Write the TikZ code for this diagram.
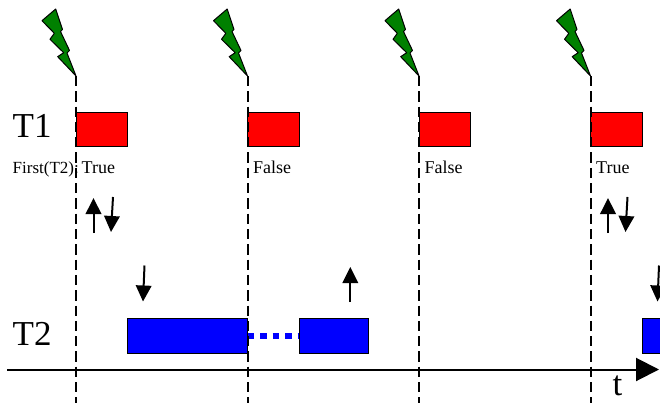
\documentclass[tikz,border=0pt]{standalone}
\usepackage{fontspec}
\setmainfont{Liberation Serif}
\usetikzlibrary{arrows.meta}
\tikzset{
  timeline/.style={draw=black,line width=2pt,dash pattern=on 10.3pt off 5pt},
  redbox/.style={draw=black,line width=1pt,fill=red,minimum width=51.5pt,minimum height=34.5pt,inner sep=0pt,outer sep=0pt,anchor=north west},
  bluebox/.style={draw=black,line width=1pt,fill=blue,minimum height=34.5pt,inner sep=0pt,outer sep=0pt,anchor=north west},
  bolt/.style={draw=black,line width=1pt,line join=round,fill=green!50!black},
  sig/.style={draw=black,line width=2pt,-{Triangle[length=16pt,width=15.5pt]}},
  biglabel/.style={font=\fontsize{35pt}{35pt}\selectfont,anchor=base west,inner sep=0pt},
  smalllabel/.style={font=\fontsize{18pt}{18pt}\selectfont,anchor=base west,inner sep=0pt},
  waitline/.style={draw=blue,line width=6pt,dash pattern=on 6.7pt off 5.8pt}
}
\newcommand{\boltshape}[1]{
  \draw[bolt,shift={(#1,0)}] (55.7,9) -- (42,20.7) -- (54.3,33.3) -- (50,39.3) -- (63.7,52.7) -- (57.7,56.7) -- (76,76) -- (67,53) -- (69.5,50.5) -- (60.5,31.5) -- (62.5,29.5) -- cycle;
}
\begin{document}
\begin{tikzpicture}[x=1pt,y=-1pt]
\useasboundingbox (0,0) rectangle (660,403);
\clip (0,0) rectangle (660,403);
\coordinate (l1a) at (76,76); \coordinate (l1b) at (76,403);
\coordinate (l2a) at (247.5,76); \coordinate (l2b) at (247.5,403);
\coordinate (l3a) at (419,76); \coordinate (l3b) at (419,403);
\coordinate (l4a) at (590.5,76); \coordinate (l4b) at (590.5,403);
\boltshape{0}\boltshape{171.5}\boltshape{343}\boltshape{514.5}
\node[redbox] (r1) at (76,112.5) {};
\node[redbox] (r2) at (247.5,112.5) {};
\node[redbox] (r3) at (419,112.5) {};
\node[redbox] (r4) at (590.5,112.5) {};
\node[bluebox,minimum width=120pt] (b1) at (127.5,318.5) {};
\node[bluebox,minimum width=69pt] (b2) at (299,318.5) {};
\node[bluebox,minimum width=40pt] (b3) at (642,318.5) {};
\draw[waitline] (b1.east) -- (b2.west);
\draw[timeline] (l1a) -- (l1b);
\draw[timeline] (l2a) -- (l2b);
\draw[timeline] (l3a) -- (l3b);
\draw[timeline] (l4a) -- (l4b);
\coordinate (ax0) at (7,369.5); \coordinate (ax1) at (659,369.5);
\draw[line width=2pt,-{Triangle[length=23pt,width=23pt]}] (ax0) -- (ax1);
\node[biglabel] (t1) at (12.5,138) {T1};
\node[biglabel] (t2) at (12.5,345) {T2};
\node[biglabel] (tt) at (612.5,395.7) {t};
\node[smalllabel,font=\fontsize{17pt}{17pt}\selectfont] (f) at (12.5,173.2) {First(T2):};
\node[smalllabel] (v1) at (81.5,173.2) {True};
\node[smalllabel] (v2) at (253,173.2) {False};
\node[smalllabel] (v3) at (424.5,173.2) {False};
\node[smalllabel] (v4) at (596,173.2) {True};
\coordinate (a1) at (93.5,233); \coordinate (a1e) at (93.5,198);
\coordinate (a2) at (113,197); \coordinate (a2e) at (111,232);
\coordinate (a3) at (144.5,265.5); \coordinate (a3e) at (143,301.5);
\coordinate (a4) at (350.3,302); \coordinate (a4e) at (350.3,267);
\coordinate (a5) at (608,233); \coordinate (a5e) at (608,198);
\coordinate (a6) at (627.5,197); \coordinate (a6e) at (625.5,232);
\coordinate (a7) at (659,265.5); \coordinate (a7e) at (657.5,301.5);
\draw[sig] (a1) -- (a1e);
\draw[sig] (a2) -- (a2e);
\draw[sig] (a3) -- (a3e);
\draw[sig] (a4) -- (a4e);
\draw[sig] (a5) -- (a5e);
\draw[sig] (a6) -- (a6e);
\draw[sig] (a7) -- (a7e);
\end{tikzpicture}
\end{document}
